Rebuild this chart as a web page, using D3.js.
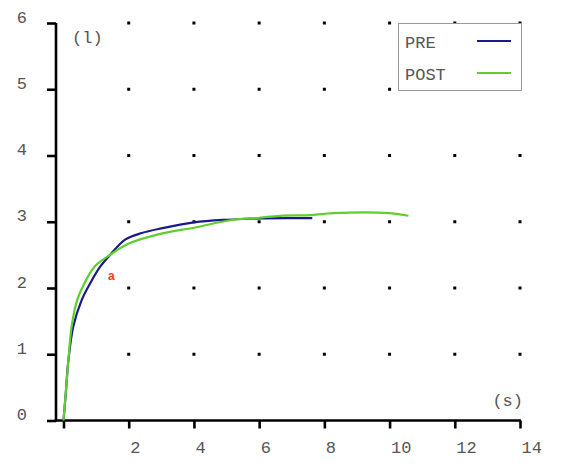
<!DOCTYPE html>
<html>
<head>
<meta charset="utf-8">
<script src="https://cdn.jsdelivr.net/npm/d3@7"></script>
<style>
  body { margin: 0; background: white; }
  svg text { font-family: "Courier New", "Liberation Mono", monospace; }
</style>
</head>
<body>
<div id="chart"></div>
<script>
// volume (l) against time (s)
const timePre = [0, 0.07, 0.15, 0.3, 0.56, 0.76, 1.12, 1.43, 1.89, 2.4, 3, 4, 5, 6, 7, 7.63];
const volPre = [0, 0.41, 0.91, 1.42, 1.82, 2.02, 2.32, 2.5, 2.73, 2.83, 2.9, 2.99, 3.03, 3.05, 3.055, 3.055];

const timePost = [0, 0.07, 0.15, 0.25, 0.42, 0.59, 0.95, 1.43, 2, 3, 4, 5.2, 6, 6.64, 7.6, 8.27, 10, 10.58];
const volPost = [0, 0.42, 0.91, 1.42, 1.82, 2.02, 2.32, 2.5, 2.67, 2.82, 2.91, 3.03, 3.06, 3.09, 3.1, 3.13, 3.13, 3.09];

const xTicks = [0, 2, 4, 6, 8, 10, 12, 14];
const yTicks = [0, 1, 2, 3, 4, 5, 6];
const seriesNames = ["PRE", "POST"];
const seriesColors = ["#1a1a8a", "#5fcf2f"];

const width = 587, height = 470;
const svg = d3.select("#chart").append("svg")
    .attr("width", width)
    .attr("height", height);

svg.append("rect").attr("width", width).attr("height", height).attr("fill", "white");

const x = d3.scaleLinear().domain([0, 14]).range([63.5, 520]);
const y = d3.scaleLinear().domain([0, 6]).range([420.5, 23]);
const axisX = 56;
const textColor = "#555";

// grid dots
const dots = [];
xTicks.filter(d => d > 0).forEach(tx => {
    yTicks.filter(d => d > 0).forEach(ty => dots.push([tx, ty]));
});
svg.append("g").selectAll("rect")
    .data(dots)
    .enter().append("rect")
    .attr("x", d => x(d[0]) - 1.5)
    .attr("y", d => y(d[1]) - 1.5)
    .attr("width", 3)
    .attr("height", 3)
    .attr("fill", "black");

// y axis
const yAxis = svg.append("g")
    .attr("transform", `translate(${axisX},0)`)
    .call(d3.axisLeft(y).tickValues(yTicks).tickSize(9).tickSizeOuter(0)
        .tickFormat(d3.format("d")));
yAxis.select(".domain").attr("stroke-width", 2.6).attr("d", `M0,${y(6)}V${y(0) + 1}`);
yAxis.selectAll(".tick line").attr("stroke-width", 2.6);
yAxis.selectAll(".tick text")
    .attr("x", -29)
    .attr("dy", "-0.05em")
    .style("font-size", "17px")
    .attr("fill", textColor);

// x axis
const xAxis = svg.append("g")
    .attr("transform", `translate(0,${y(0)})`)
    .call(d3.axisBottom(x).tickValues(xTicks).tickSize(8).tickSizeOuter(0)
        .tickFormat(d => d === 0 ? "" : d));
xAxis.select(".domain").attr("stroke-width", 2.6).attr("d", `M${axisX - 1.3},0H${x(14) + 1}`);
xAxis.selectAll(".tick line").attr("stroke-width", 2.6);
xAxis.selectAll(".tick text")
    .attr("text-anchor", "start")
    .attr("x", 1)
    .attr("y", 32)
    .attr("dy", 0)
    .style("font-size", "17px")
    .attr("fill", textColor);

// unit labels
svg.append("text").attr("x", 72).attr("y", 43)
    .style("font-size", "17px").attr("fill", textColor).text("(l)");
svg.append("text").attr("x", 523).attr("y", 406).attr("text-anchor", "end")
    .style("font-size", "17px").attr("fill", textColor).text("(s)");

// curves
const line = d3.line()
    .x(d => x(d[0]))
    .y(d => y(d[1]))
    .curve(d3.curveCatmullRom.alpha(0.5));

const prePts = timePre.map((t, i) => [t, volPre[i]]);
const postPts = timePost.map((t, i) => [t, volPost[i]]);

svg.append("path").datum(prePts)
    .attr("d", line).attr("fill", "none")
    .attr("stroke", seriesColors[0]).attr("stroke-width", 2.2);
svg.append("path").datum(postPts)
    .attr("d", line).attr("fill", "none")
    .attr("stroke", seriesColors[1]).attr("stroke-width", 2.2);

// red marker label
svg.append("text").attr("x", 108).attr("y", 280)
    .style("font-family", "'Liberation Sans', Arial, sans-serif")
    .style("font-size", "12px").style("font-weight", "bold")
    .attr("fill", "#ff3322").text("a");

// legend
const legend = svg.append("g");
legend.append("rect")
    .attr("x", 398.5).attr("y", 23.5)
    .attr("width", 123).attr("height", 67)
    .attr("fill", "white").attr("stroke", "#999").attr("stroke-width", 1);
seriesNames.forEach((name, i) => {
    const ly = 41 + i * 32;
    legend.append("text").attr("x", 405).attr("y", ly + 7)
        .style("font-size", "17px").attr("fill", textColor).text(name);
    legend.append("line")
        .attr("x1", 477).attr("x2", 511)
        .attr("y1", ly).attr("y2", ly)
        .attr("stroke", seriesColors[i]).attr("stroke-width", 2);
});
</script>
</body>
</html>
